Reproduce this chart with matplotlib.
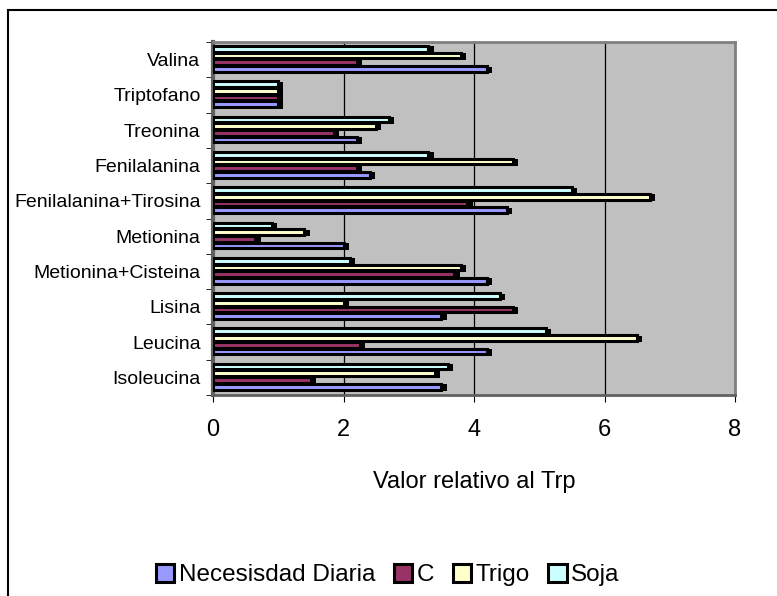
import matplotlib.pyplot as plt
import numpy as np
from matplotlib.patches import Rectangle

plt.rcParams['font.family'] = ['Liberation Sans', 'DejaVu Sans']

aminoacidos = ['Isoleucina', 'Leucina', 'Lisina', 'Metionina+Cisteina', 'Metionina',
               'Fenilalanina+Tirosina', 'Fenilalanina', 'Treonina', 'Triptofano', 'Valina']
necesidad = [3.5, 4.2, 3.5, 4.2, 2.0, 4.5, 2.4, 2.2, 1.0, 4.2]
c_vals = [1.5, 2.25, 4.6, 3.7, 0.65, 3.9, 2.2, 1.85, 1.0, 2.2]
trigo = [3.4, 6.5, 2.0, 3.8, 1.4, 6.7, 4.6, 2.5, 1.0, 3.8]
soja = [3.6, 5.1, 4.4, 2.1, 0.9, 5.5, 3.3, 2.7, 1.0, 3.3]

series = [('Necesisdad Diaria', necesidad, '#9999FF'),
          ('C', c_vals, '#993366'),
          ('Trigo', trigo, '#FFFFCC'),
          ('Soja', soja, '#CCFFFF')]

fig = plt.figure(figsize=(7.77, 5.96), dpi=100)
ax = fig.add_axes([213 / 777, 1 - 395 / 596, (735 - 213) / 777, (395 - 42) / 596])
ax.set_facecolor('#C0C0C0')

y = np.arange(len(aminoacidos))
h = 0.19
for i, (nombre, vals, color) in enumerate(series):
    pos = y - 0.38 + h / 2 + i * h + 0.02
    # sombra negra detras de cada barra
    ax.barh(pos - 0.025, np.array(vals) + 0.08, height=h, color='black', zorder=2)
    ax.barh(pos, vals, height=h * 0.85, color=color, edgecolor='black',
            linewidth=2.2, label=nombre, zorder=3)

ax.set_xlim(0, 8)
ax.set_ylim(-0.5, len(aminoacidos) - 0.5)
ax.set_xticks([0, 2, 4, 6, 8])
ax.set_yticks(y)
ax.set_yticklabels(aminoacidos, fontsize=14)
ax.set_yticks(np.arange(len(aminoacidos) + 1) - 0.5, minor=True)
ax.tick_params(axis='y', which='major', length=0, pad=9)
ax.tick_params(axis='y', which='minor', length=5, direction='out')
ax.tick_params(axis='x', labelsize=17, length=5, pad=12)
ax.xaxis.grid(True, color='black', linewidth=0.9)
ax.set_axisbelow(True)
for lado in ['top', 'right']:
    ax.spines[lado].set_color('#808080')
    ax.spines[lado].set_linewidth(2)
ax.spines['left'].set_color('#606060')
ax.spines['left'].set_linewidth(3)
ax.spines['bottom'].set_color('#606060')
ax.spines['bottom'].set_linewidth(2)

ax.set_xlabel('Valor relativo al Trp', fontsize=17, labelpad=22)

handles, labels = ax.get_legend_handles_labels()
fig.legend(handles, labels, loc='center', bbox_to_anchor=(388 / 777, 1 - 575 / 596),
           ncol=4, frameon=False, fontsize=17.5, handlelength=0.75, handleheight=0.8,
           handletextpad=0.2, columnspacing=0.75, borderaxespad=0)

fig.patches.append(Rectangle((8 / 777, -0.1), 1.0, 1 - 10 / 596 + 0.1,
                             transform=fig.transFigure, fill=False,
                             edgecolor='black', linewidth=1.5))

fig.savefig('out.png', dpi=100)
